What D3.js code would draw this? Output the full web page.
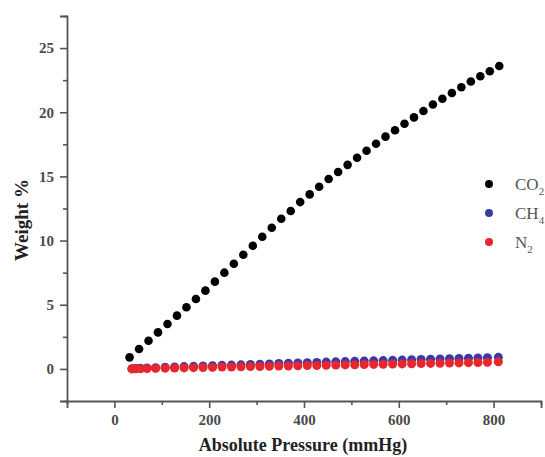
<!DOCTYPE html>
<html>
<head>
<meta charset="utf-8">
<script src="https://cdn.jsdelivr.net/npm/d3@7"></script>
<style>
  body { margin: 0; background: #fff; }
  svg { display: block; }
  .tick text { font-family: "Liberation Serif", "DejaVu Serif", serif; font-weight: bold; fill: #4a4a4a; }
</style>
</head>
<body>
<div id="chart"></div>
<script>
// pressure (mmHg) and uptake (weight %)
var co2Pressure = [32, 52, 72, 92, 112, 132, 152, 172, 192, 212, 232, 252, 272, 292, 312, 332, 352, 372, 392, 412,
                   432, 452, 472, 492, 512, 532, 552, 572, 592, 612, 632, 652, 672, 692, 712, 732, 752, 772, 792, 812];
var co2Weight = [0.9, 1.55, 2.2, 2.85, 3.5, 4.15, 4.8, 5.45, 6.1, 6.8, 7.5, 8.2, 8.9, 9.6, 10.3, 11.0, 11.7, 12.3, 13.0, 13.6,
                 14.2, 14.8, 15.35, 15.9, 16.45, 17.0, 17.55, 18.1, 18.6, 19.1, 19.6, 20.1, 20.6, 21.05, 21.5, 21.95, 22.4, 22.8, 23.2, 23.6];

var lowPressure = [37, 45, 55, 69, 87, 107, 127, 147, 167, 187, 207, 227, 247, 267, 287, 307, 327, 347, 367, 387,
                   407, 427, 447, 467, 487, 507, 527, 547, 567, 587, 607, 627, 647, 667, 687, 707, 727, 747, 767, 787, 810];
var ch4Weight = [0.02, 0.03, 0.05, 0.07, 0.10, 0.13, 0.15, 0.18, 0.20, 0.23, 0.25, 0.28, 0.30, 0.32, 0.35, 0.37, 0.39, 0.42, 0.44, 0.46,
                 0.48, 0.50, 0.53, 0.55, 0.57, 0.59, 0.61, 0.63, 0.65, 0.67, 0.69, 0.71, 0.73, 0.75, 0.77, 0.79, 0.81, 0.83, 0.85, 0.87, 0.90];
var n2Weight = [0.00, 0.01, 0.02, 0.03, 0.04, 0.06, 0.07, 0.08, 0.10, 0.11, 0.12, 0.14, 0.15, 0.16, 0.18, 0.19, 0.20, 0.22, 0.23, 0.24,
                0.26, 0.27, 0.28, 0.30, 0.31, 0.32, 0.34, 0.35, 0.36, 0.38, 0.39, 0.40, 0.42, 0.43, 0.44, 0.46, 0.47, 0.49, 0.50, 0.52, 0.55];

var seriesNames = ["CO", "CH", "N"];
var seriesSubs = ["2", "4", "2"];
var seriesColors = ["#000000", "#3a3aa6", "#e8262d"];

var xMajor = [0, 200, 400, 600, 800];
var xMinor = [-100, 100, 300, 500, 700, 900];
var yMajor = [0, 5, 10, 15, 20, 25];
var yMinor = [-2.5, 2.5, 7.5, 12.5, 17.5, 22.5, 27.5];

var width = 545, height = 457;
var margin = { top: 16, left: 67, right: 4, bottom: 56 };

var svg = d3.select("#chart").append("svg")
    .attr("width", width)
    .attr("height", height);

var x = d3.scaleLinear()
    .domain([-100, 900])
    .range([margin.left, width - margin.right]);

var y = d3.scaleLinear()
    .domain([-2.5, 27.5])
    .range([height - margin.bottom, margin.top]);

var axisColor = "#555";

// x axis: minor ticks then major ticks with labels
var xMinorAxis = d3.axisBottom(x).tickValues(xMinor).tickSize(4).tickFormat("");
var xAxis = d3.axisBottom(x).tickValues(xMajor).tickSize(7).tickPadding(6).tickFormat(d3.format("d"));

svg.append("g")
    .attr("transform", "translate(0," + y(-2.5) + ")")
    .call(xMinorAxis)
    .call(function(g) { g.select(".domain").remove(); });

var gx = svg.append("g")
    .attr("transform", "translate(0," + y(-2.5) + ")")
    .call(xAxis);

var yMinorAxis = d3.axisLeft(y).tickValues(yMinor).tickSize(4).tickFormat("");
var yAxis = d3.axisLeft(y).tickValues(yMajor).tickSize(7).tickPadding(6).tickFormat(d3.format("d"));

svg.append("g")
    .attr("transform", "translate(" + x(-100) + ",0)")
    .call(yMinorAxis)
    .call(function(g) { g.select(".domain").remove(); });

var gy = svg.append("g")
    .attr("transform", "translate(" + x(-100) + ",0)")
    .call(yAxis);

[gx, gy].forEach(function(g) {
    g.select(".domain").attr("stroke", axisColor).attr("stroke-width", 1.8);
    g.selectAll(".tick text").style("font-size", "15px");
});
svg.selectAll(".tick line").attr("stroke", axisColor).attr("stroke-width", 1.6);

// scatter series, drawn blue before red so red sits on top
function drawSeries(xs, ys, color, r) {
    svg.append("g")
        .selectAll("circle")
        .data(xs.map(function(d, i) { return [d, ys[i]]; }))
        .enter().append("circle")
        .attr("cx", function(d) { return x(d[0]); })
        .attr("cy", function(d) { return y(d[1]); })
        .attr("r", r)
        .attr("fill", color);
}

drawSeries(co2Pressure, co2Weight, seriesColors[0], 4.3);
drawSeries(lowPressure, ch4Weight, seriesColors[1], 4.5);
drawSeries(lowPressure, n2Weight, seriesColors[2], 4.5);

// legend
var legend = svg.append("g").attr("transform", "translate(489,184)");
seriesNames.forEach(function(name, i) {
    var row = legend.append("g").attr("transform", "translate(0," + i * 29 + ")");
    row.append("circle").attr("r", 4).attr("fill", seriesColors[i]);
    var t = row.append("text")
        .attr("x", 26)
        .attr("y", 6)
        .style("font-family", "'Liberation Serif', 'DejaVu Serif', serif")
        .style("font-size", "17px")
        .style("fill", "#555")
        .text(name);
    t.append("tspan")
        .attr("dy", 5)
        .style("font-size", "11px")
        .text(seriesSubs[i]);
});

// axis titles
svg.append("text")
    .attr("transform", "translate(28,220) rotate(-90)")
    .attr("text-anchor", "middle")
    .style("font-family", "'Liberation Serif', 'DejaVu Serif', serif")
    .style("font-weight", "bold")
    .style("font-size", "19px")
    .style("fill", "#222")
    .text("Weight %");

svg.append("text")
    .attr("x", 303)
    .attr("y", 451)
    .attr("text-anchor", "middle")
    .style("font-family", "'Liberation Serif', 'DejaVu Serif', serif")
    .style("font-weight", "bold")
    .style("font-size", "18px")
    .style("fill", "#222")
    .text("Absolute Pressure (mmHg)");
</script>
</body>
</html>
